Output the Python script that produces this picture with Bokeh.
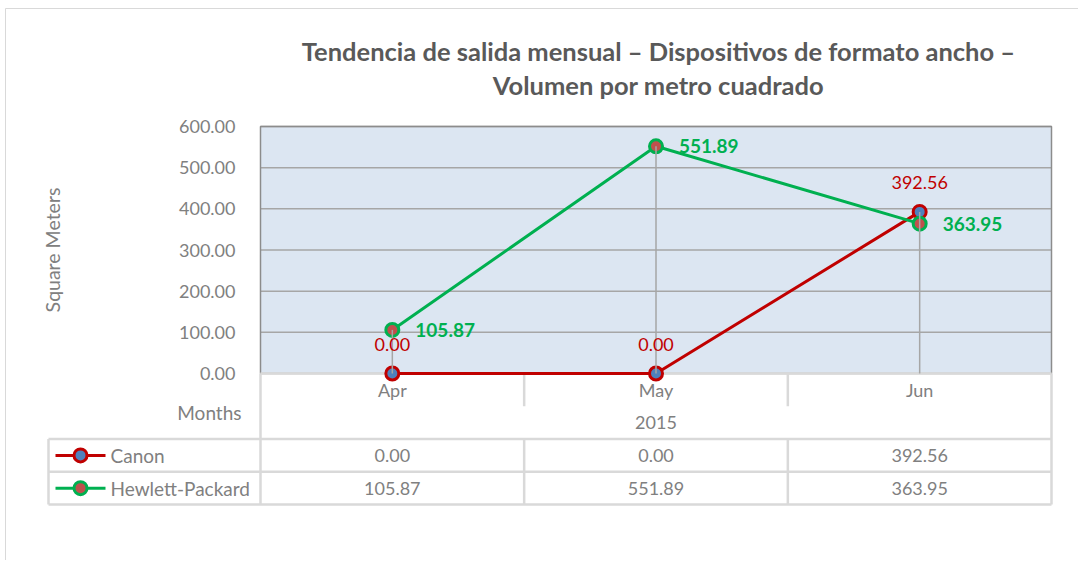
from bokeh.plotting import figure
from bokeh.models import Range1d, FixedTicker, NumeralTickFormatter, LinearAxis
from bokeh.embed import file_html
from bokeh.resources import INLINE
from bokeh.core.properties import value

# ---------------- data ----------------
title_lines = ["Tendencia de salida mensual – Dispositivos de formato ancho –",
               "Volumen por metro cuadrado"]
months = ["Apr", "May", "Jun"]
year = "2015"
series_names = ["Canon", "Hewlett-Packard"]
canon = [0.00, 0.00, 392.56]
hp = [105.87, 551.89, 363.95]
y_ticks = [0, 100, 200, 300, 400, 500, 600]
y_label = "Square Meters"
x_label = "Months"

# ---------------- style / layout helpers ----------------
FONT = value("Lato")
GRAY = "#808080"
TITLE_GRAY = "#595959"
RED = "#c00000"
GREEN = "#00b050"
LIGHT = "#d9d9d9"
W, H = 1078, 560
n = len(months)
K = 791 / n                     # pixels per category
PXV = 247 / (y_ticks[-1] - y_ticks[0])   # pixels per unit value
ROW = 32.75                     # pixels per table row


def X(px):
    return (px - 260) / K


def Y(py):
    return (373 - py) / PXV


def R(r):
    return Y(373 + r * ROW)


p = figure(width=W, height=H, x_range=Range1d(X(0), X(W)), y_range=Range1d(Y(H), Y(0)),
           x_axis_type=None, y_axis_type=None, min_border=0,
           output_backend="svg", toolbar_location=None,
           outline_line_color=None, background_fill_color="white",
           border_fill_color="white")

# outer chart border
p.segment(x0=[X(5), X(5)], y0=[Y(8), Y(8)], x1=[X(5), X(W)], y1=[Y(H), Y(8)],
          line_color=LIGHT, line_width=1)

# title
p.text(x=[X(658)] * len(title_lines), y=[Y(50), Y(84)], text=title_lines,
       text_align="center", text_baseline="middle", text_color=TITLE_GRAY,
       text_font=FONT, text_font_size="25.5px", text_font_style="bold")

# plot area
p.quad(left=[0], right=[n], bottom=[y_ticks[0]], top=[y_ticks[-1]],
       fill_color="#dce6f2", line_color=None)
p.segment(x0=[0] * len(y_ticks), y0=y_ticks, x1=[n] * len(y_ticks), y1=y_ticks,
          line_color="#a6a6a6", line_width=1.5)
p.line(x=[0, 0, n, n], y=[y_ticks[0], y_ticks[-1], y_ticks[-1], y_ticks[0]],
       line_color="#8c8c8c", line_width=1.5)

# y axis
ya = LinearAxis(fixed_location=0, bounds=(y_ticks[0], y_ticks[-1]),
                ticker=FixedTicker(ticks=y_ticks),
                formatter=NumeralTickFormatter(format="0.00"))
ya.major_label_text_font = "Lato"
ya.major_label_text_font_size = "18px"
ya.major_label_text_color = GRAY
ya.major_tick_line_color = None
ya.minor_tick_line_color = None
ya.axis_line_color = None
ya.major_label_standoff = 19
ya.axis_label = y_label
ya.axis_label_text_font = "Lato"
ya.axis_label_text_font_style = "normal"
ya.axis_label_text_font_size = "19.5px"
ya.axis_label_text_color = GRAY
ya.axis_label_standoff = 112
p.add_layout(ya, "left")

# ---------------- table / category axis rules ----------------
xl = X(48)
p.segment(x0=[0, xl, xl, xl], y0=[R(0), R(2), R(3), R(4)],
          x1=[n, n, n, n], y1=[R(0), R(2), R(3), R(4)],
          line_color=LIGHT, line_width=2.5)
vx = [xl, 0, n] + list(range(1, n)) * 2
vy0 = [R(2), R(0), R(0)] + [R(0)] * (n - 1) + [R(2)] * (n - 1)
vy1 = [R(4), R(4), R(4)] + [R(1)] * (n - 1) + [R(4)] * (n - 1)
p.segment(x0=vx, y0=vy0, x1=vx, y1=vy1, line_color=LIGHT, line_width=2.5)

centers = [i + 0.5 for i in range(n)]

# ---------------- series ----------------
p.line(centers, canon, line_color=RED, line_width=3)
p.scatter(centers, canon, marker="circle", size=13, line_width=3,
          line_color=RED, fill_color="#4f81bd")
p.line(centers, hp, line_color=GREEN, line_width=3)
p.scatter(centers, hp, marker="circle", size=13, line_width=3,
          line_color=GREEN, fill_color="#c0504d")

# drop lines
p.segment(x0=centers, y0=[0] * n, x1=centers,
          y1=[max(a, b) for a, b in zip(canon, hp)],
          line_color="#a6a6a6", line_width=1.5)

# data labels
p.text(x=centers, y=canon, text=[f"{v:.2f}" for v in canon],
       text_align="center", text_baseline="middle", y_offset=-29,
       text_color=RED, text_font=FONT, text_font_size="18px")
p.text(x=centers, y=hp, text=[f"{v:.2f}" for v in hp],
       text_align="left", text_baseline="middle", x_offset=23,
       text_color=GREEN, text_font=FONT, text_font_size="19px",
       text_font_style="bold")

# ---------------- table texts ----------------
p.text(x=centers, y=[(R(0) + R(1)) / 2] * n, text=months, text_align="center",
       text_baseline="middle", text_color=GRAY, text_font=FONT, text_font_size="18px")
p.text(x=[n / 2], y=[(R(1) + R(2)) / 2], text=[year], text_align="center",
       text_baseline="middle", text_color=GRAY, text_font=FONT, text_font_size="18px")
p.text(x=[X(241)], y=[Y(412)], text=[x_label], text_align="right",
       text_baseline="middle", text_color=GRAY, text_font=FONT, text_font_size="19px")

cols = [(RED, "#4f81bd", canon), (GREEN, "#c0504d", hp)]
for r, (name, (lc, fc, vals)) in enumerate(zip(series_names, cols)):
    yy = (R(2 + r) + R(3 + r)) / 2
    p.line([X(55), X(105)], [yy, yy], line_color=lc, line_width=3)
    p.scatter([X(80)], [yy], marker="circle", size=13, line_width=3,
              line_color=lc, fill_color=fc)
    p.text(x=[X(110)], y=[yy], text=[name], text_align="left",
           text_baseline="middle", text_color=GRAY, text_font=FONT, text_font_size="19px")
    p.text(x=centers, y=[yy] * n, text=[f"{v:.2f}" for v in vals], text_align="center",
           text_baseline="middle", text_color=GRAY, text_font=FONT, text_font_size="18px")

open("out.html", "w").write(file_html(p, INLINE))
